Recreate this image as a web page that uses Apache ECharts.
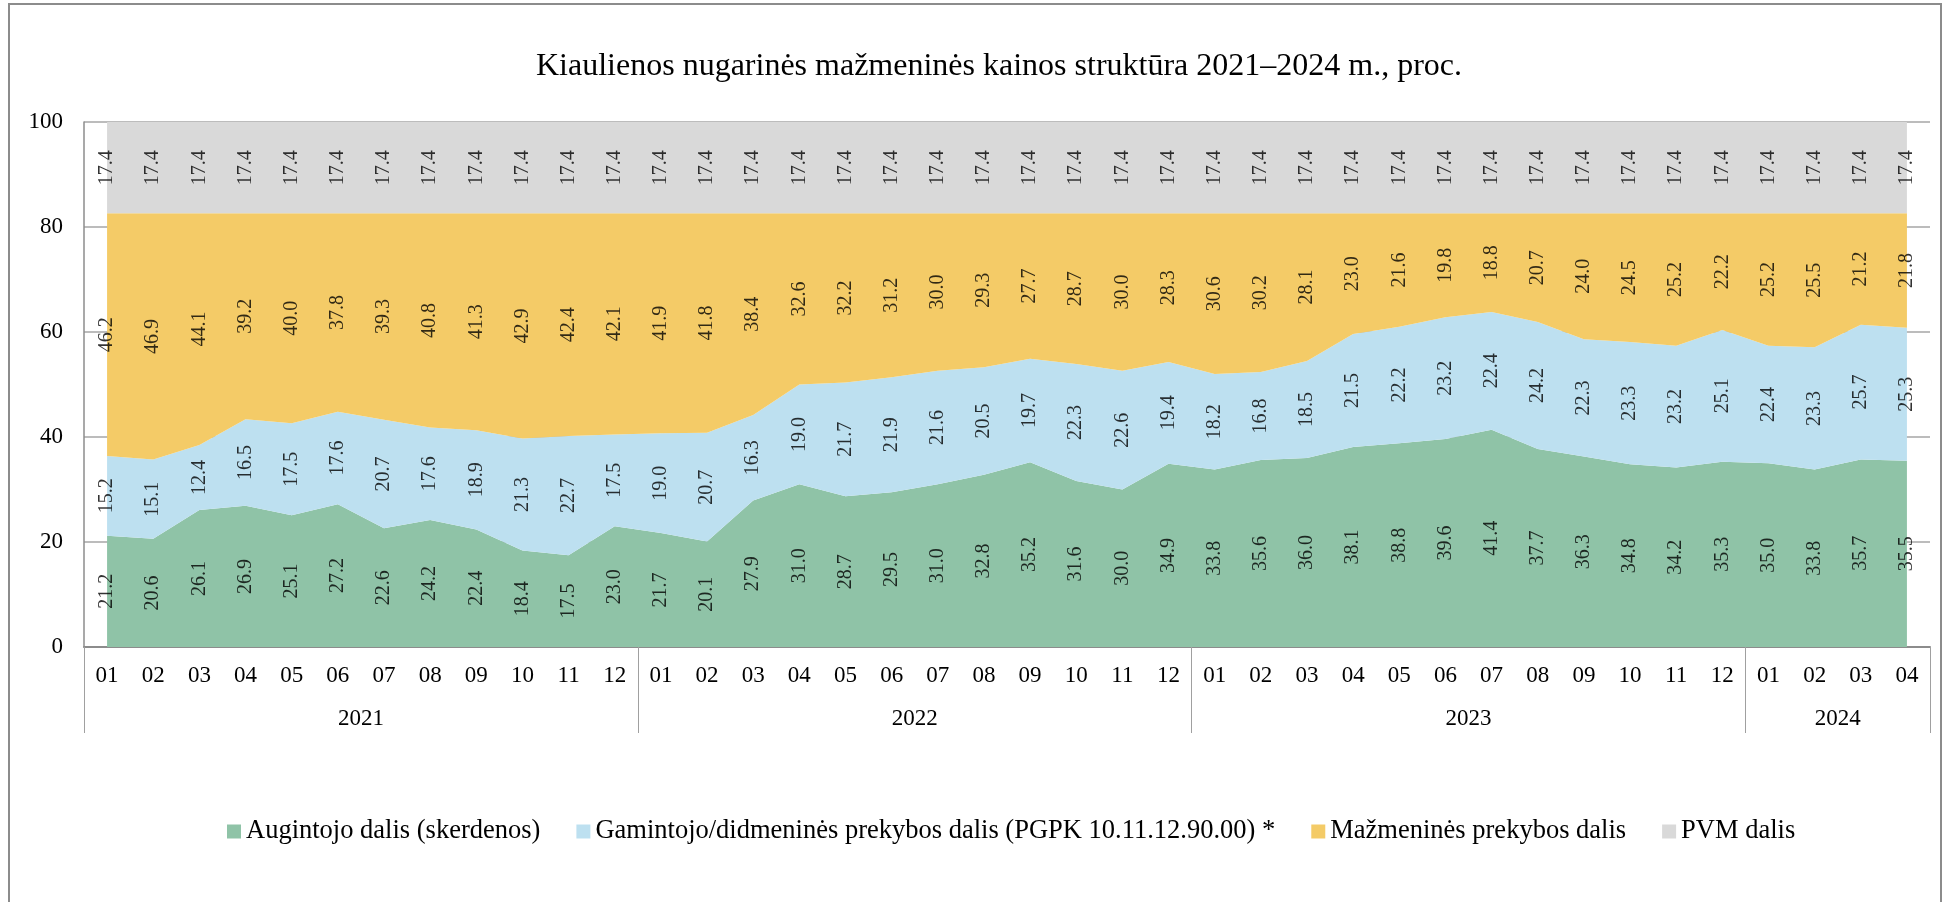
<!DOCTYPE html>
<html>
<head>
<meta charset="utf-8">
<title>Kiaulienos nugarinės mažmeninės kainos struktūra</title>
<script src="https://cdn.jsdelivr.net/npm/echarts@6/dist/echarts.min.js"></script>
<style>
  html, body { margin: 0; padding: 0; background: #fff; }
  #chart { width: 1948px; height: 902px; }
</style>
</head>
<body>
<div id="chart"></div>
<script>
// mėnesiai 2021-01 ... 2024-04
var months = [
  '01', '02', '03', '04', '05', '06', '07', '08', '09', '10', '11', '12',
  '01', '02', '03', '04', '05', '06', '07', '08', '09', '10', '11', '12',
  '01', '02', '03', '04', '05', '06', '07', '08', '09', '10', '11', '12',
  '01', '02', '03', '04'
];
var years = ['2021', '2022', '2023', '2024'];
var yearMonths = [12, 12, 12, 4];

var augintojo = [
  21.2, 20.6, 26.1, 26.9, 25.1, 27.2, 22.6, 24.2, 22.4, 18.4, 17.5, 23.0,
  21.7, 20.1, 27.9, 31.0, 28.7, 29.5, 31.0, 32.8, 35.2, 31.6, 30.0, 34.9,
  33.8, 35.6, 36.0, 38.1, 38.8, 39.6, 41.4, 37.7, 36.3, 34.8, 34.2, 35.3,
  35.0, 33.8, 35.7, 35.5
];
var gamintojo = [
  15.2, 15.1, 12.4, 16.5, 17.5, 17.6, 20.7, 17.6, 18.9, 21.3, 22.7, 17.5,
  19.0, 20.7, 16.3, 19.0, 21.7, 21.9, 21.6, 20.5, 19.7, 22.3, 22.6, 19.4,
  18.2, 16.8, 18.5, 21.5, 22.2, 23.2, 22.4, 24.2, 22.3, 23.3, 23.2, 25.1,
  22.4, 23.3, 25.7, 25.3
];
var mazmenines = [
  46.2, 46.9, 44.1, 39.2, 40.0, 37.8, 39.3, 40.8, 41.3, 42.9, 42.4, 42.1,
  41.9, 41.8, 38.4, 32.6, 32.2, 31.2, 30.0, 29.3, 27.7, 28.7, 30.0, 28.3,
  30.6, 30.2, 28.1, 23.0, 21.6, 19.8, 18.8, 20.7, 24.0, 24.5, 25.2, 22.2,
  25.2, 25.5, 21.2, 21.8
];
var pvm = [
  17.4, 17.4, 17.4, 17.4, 17.4, 17.4, 17.4, 17.4, 17.4, 17.4, 17.4, 17.4,
  17.4, 17.4, 17.4, 17.4, 17.4, 17.4, 17.4, 17.4, 17.4, 17.4, 17.4, 17.4,
  17.4, 17.4, 17.4, 17.4, 17.4, 17.4, 17.4, 17.4, 17.4, 17.4, 17.4, 17.4,
  17.4, 17.4, 17.4, 17.4
];

var seriesDefs = [
  { name: 'Augintojo dalis (skerdenos)', data: augintojo, color: '#8fc3a7' },
  { name: 'Gamintojo/didmeninės prekybos dalis (PGPK 10.11.12.90.00) *', data: gamintojo, color: '#bde0f0' },
  { name: 'Mažmeninės prekybos dalis', data: mazmenines, color: '#f4cb67' },
  { name: 'PVM dalis', data: pvm, color: '#d9d9d9' }
];

var FONT = '"Liberation Serif", "Times New Roman", serif';

// antras x ašies lygis: metų ribos ir pavadinimai
var yearAxisData = [];
var yearTicks = {};
(function () {
  var pos = 0;
  for (var i = 0; i <= months.length; i++) yearAxisData.push('');
  yearTicks[0] = true;
  years.forEach(function (y, i) {
    var n = yearMonths[i];
    yearAxisData[pos + n / 2] = y;
    pos += n;
    yearTicks[pos] = true;
  });
})();

var series = [];
seriesDefs.forEach(function (s) {
  series.push({
    name: s.name,
    type: 'line',
    stack: 'total',
    data: s.data,
    symbol: 'none',
    smooth: false,
    itemStyle: { color: s.color },
    lineStyle: { width: 0, color: s.color },
    areaStyle: { color: s.color, opacity: 1 },
    emphasis: { disabled: true },
    silent: true
  });
});

// reikšmių užrašai – kiekvienos juostos viduryje
var base = months.map(function () { return 0; });
seriesDefs.forEach(function (s, k) {
  var pts = s.data.map(function (v, i) {
    var mid = base[i] + v / 2;
    base[i] += v;
    return [i, mid, v];
  });
  series.push({
    name: 'lbl' + k,
    type: 'scatter',
    data: pts,
    symbolSize: 0,
    silent: true,
    z: 5,
    label: {
      show: true,
      position: 'inside',
      rotate: 90,
      fontFamily: FONT,
      fontSize: 20,
      color: '#000',
      formatter: function (p) { return p.data[2].toFixed(1); }
    }
  });
});

var chart = echarts.init(document.getElementById('chart'));
chart.setOption({
  animation: false,
  backgroundColor: '#fff',
  textStyle: { fontFamily: FONT },
  title: {
    text: 'Kiaulienos nugarinės mažmeninės kainos struktūra 2021–2024 m., proc.',
    left: 531,
    top: 46,
    textStyle: { fontFamily: FONT, fontSize: 32, fontWeight: 'normal', color: '#000' }
  },
  legend: {
    data: seriesDefs.map(function (s) { return s.name; }),
    left: 222,
    top: 813,
    icon: 'rect',
    itemWidth: 14,
    itemHeight: 14,
    itemGap: 36,
    selectedMode: false,
    textStyle: { fontFamily: FONT, fontSize: 26.5, color: '#000' }
  },
  grid: { left: 84, right: 18, top: 122, bottom: 255, containLabel: false },
  xAxis: [
    {
      type: 'category',
      data: months,
      boundaryGap: true,
      axisLine: { show: true, lineStyle: { color: '#8c8c8c', width: 2 } },
      axisTick: { show: false },
      axisLabel: { interval: 0, margin: 17, fontFamily: FONT, fontSize: 23, color: '#000' },
      splitLine: { show: false }
    },
    {
      type: 'category',
      data: yearAxisData,
      position: 'bottom',
      boundaryGap: false,
      axisLine: { show: false },
      axisTick: {
        show: true,
        inside: false,
        length: 86,
        interval: function (i) { return !!yearTicks[i]; },
        lineStyle: { color: '#a0a0a0', width: 1 }
      },
      axisLabel: { interval: 0, margin: 60, fontFamily: FONT, fontSize: 23, color: '#000' },
      splitLine: { show: false }
    }
  ],
  yAxis: {
    type: 'value',
    min: 0,
    max: 100,
    interval: 20,
    axisLine: { show: true, lineStyle: { color: '#8c8c8c', width: 1.5 } },
    axisTick: { show: false },
    axisLabel: { margin: 21, fontFamily: FONT, fontSize: 23, color: '#000' },
    splitLine: { show: true, lineStyle: { color: '#a6a6a6', width: 1.5 } }
  },
  graphic: [{
    type: 'rect',
    silent: true,
    z: -10,
    shape: { x: 9, y: 4, width: 1932, height: 920 },
    style: { fill: 'none', stroke: '#8c8c8c', lineWidth: 2 }
  }],
  series: series
});
</script>
</body>
</html>
